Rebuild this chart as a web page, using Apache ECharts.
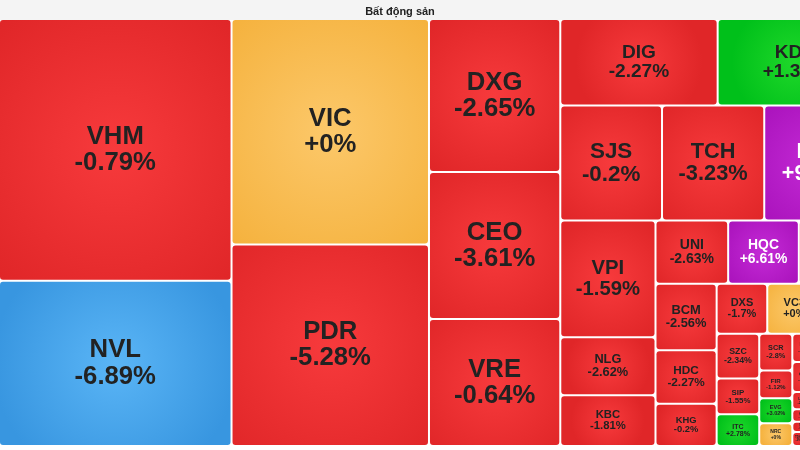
<!DOCTYPE html>
<html>
<head>
<meta charset="utf-8">
<script src="https://cdn.jsdelivr.net/npm/echarts@6/dist/echarts.min.js"></script>
<style>
html,body{margin:0;padding:0;background:#ffffff;}
#c{width:800px;height:450px;}
</style>
</head>
<body>
<div id="c"></div>
<script>
// ---- data ----
const titleText = 'Bất động sản';
const names = ['VHM','NVL','VIC','PDR','DXG','CEO','VRE','DIG','KDH','SJS','TCH','HUT','VPI','NLG','KBC','UNI','HQC','IJC','BCM','HDC','KHG','DXS','VC3','NBB','SZC','SIP','ITC','SCR','FIR','EVG','NRC','LHG','CII','D2D','QCG','TIG','CRE','LDG','HAR','NVT','TDH','PTL','API','NDN','IDJ','DTD','SGR','NHA'];
const sizes = [60320,38048,44128,39400,19912,19126,16506,13502,13330,11571,11628,12369,11020,5462,4798,4568,4442,4662,4026,3233,2562,2500,2673,2549,1891,1509,1339,1205,908,825,743,760,750,744,810,805,800,340,250,200,160,120,700,650,600,500,437,350];
const changes = [-0.79,-6.89,0,-5.28,-2.65,-3.61,-0.64,-2.27,1.32,-0.2,-3.23,9.68,-1.59,-2.62,-1.81,-2.63,6.61,-1.9,-2.56,-2.27,-0.2,-1.7,0,-1.5,-2.34,-1.55,2.78,-2.8,-1.12,3.02,0,-1.4,-2.1,-0.8,-1.1,-2.9,-3.1,-2.5,-1.6,-0.9,-3.0,-1.3,-2.2,-1.0,-2.4,-0.5,-1.8,-2.0];
// how many consecutive stocks share one strip of the heat map (the last ones share the remainder)
const stripLengths = [2,2,3,2,3,3,3,3,3,3,4,3,3,5];
const ceilingNames = ['HUT','HQC'];
const floorNames = ['NVL'];

const FONT = "'Liberation Sans', Arial, Helvetica, sans-serif";
const palette = {
  up:    ['#1fd82a', '#00c01a'],
  down:  ['#f73a3c', '#e02628'],
  ref:   ['#fcc86a', '#f5b23e'],
  ceil:  ['#c42ad6', '#a912bb'],
  floor: ['#5ab5f6', '#3896e0']
};
function status(name, v) {
  if (ceilingNames.indexOf(name) >= 0) return 'ceil';
  if (floorNames.indexOf(name) >= 0) return 'floor';
  if (v > 0) return 'up';
  if (v < 0) return 'down';
  return 'ref';
}
function fmt(v) { return (v >= 0 ? '+' : '') + v + '%'; }

function leaf(i, fontSizes) {
  const n = names[i];
  const st = status(n, changes[i]);
  const c = palette[st];
  const item = {
    name: n,
    value: sizes[i],
    pct: changes[i],
    itemStyle: {
      color: {
        type: 'radial', x: 0.5, y: 0.5, r: 0.75,
        colorStops: [{offset: 0, color: c[0]}, {offset: 1, color: c[1]}]
      }
    },
    label: { color: st === 'ceil' ? '#ffffff' : '#222222' }
  };
  if (fontSizes && fontSizes[n]) {
    item.label.fontSize = fontSizes[n];
    item.label.lineHeight = Math.round(fontSizes[n] * 1.02 * 10) / 10;
  }
  return item;
}
const groupStyle = { color: '#ffffff', borderColor: '#ffffff', borderWidth: 0, gapWidth: 2, borderRadius: 0 };
function build(k, start, fontSizes) {
  if (k >= stripLengths.length) {
    const out = [];
    for (let i = start; i < names.length; i++) out.push(leaf(i, fontSizes));
    return out;
  }
  const strip = [];
  for (let i = start; i < start + stripLengths[k]; i++) strip.push(leaf(i, fontSizes));
  return [
    { name: 's' + k, children: strip, itemStyle: groupStyle, label: { show: false } },
    { name: 'r' + k, children: build(k + 1, start + stripLengths[k], fontSizes), itemStyle: groupStyle, label: { show: false } }
  ];
}

const chart = echarts.init(document.getElementById('c'), null, {renderer: 'canvas'});
const option = {
  animation: false,
  backgroundColor: '#ffffff',
  title: {
    text: titleText, left: 'center', top: 1,
    textStyle: { fontSize: 11, fontWeight: 'bold', color: '#222', fontFamily: FONT }
  },
  graphic: [{
    type: 'rect', left: 0, top: 0, z: -10, silent: true,
    shape: { width: 800, height: 20 },
    style: { fill: '#f4f4f4' }
  }],
  series: [{
    type: 'treemap',
    left: 0, top: 20, width: 872, height: 425,
    sort: false,
    squareRatio: 1,
    roam: false,
    nodeClick: false,
    breadcrumb: { show: false },
    visibleMin: 1,
    itemStyle: { borderWidth: 0, gapWidth: 2, borderColor: '#ffffff', borderRadius: 3 },
    label: {
      show: true, position: 'inside', padding: 0,
      fontFamily: FONT, fontWeight: 'bold', fontSize: 12,
      formatter: function (p) { return p.name + '\n' + fmt(p.data.pct); }
    },
    emphasis: { disabled: true },
    data: build(0, 0, null)
  }]
};
chart.setOption(option);

// derive label sizes from the library's own layout of each cell
const mctx = document.createElement('canvas').getContext('2d');
mctx.font = "bold 100px 'Liberation Sans', Arial, sans-serif";
function units(t) { return mctx.measureText(t).width / 100; }
const sd = chart.getModel().getSeriesByIndex(0).getData();
const fs = {};
for (let i = 0; i < sd.count(); i++) {
  const l = sd.getItemLayout(i);
  const n = sd.getName(i);
  const k = names.indexOf(n);
  if (l && k >= 0) {
    const u = Math.max(units(n), units(fmt(changes[k])));
    const f = Math.min(25.7, 0.22 * Math.min(l.width, l.height) + 0.5, 0.69 * l.width / u);
    fs[n] = Math.max(3, Math.round(f * 10) / 10);
  }
}
chart.setOption({ series: [{ data: build(0, 0, fs) }] });
</script>
</body>
</html>
